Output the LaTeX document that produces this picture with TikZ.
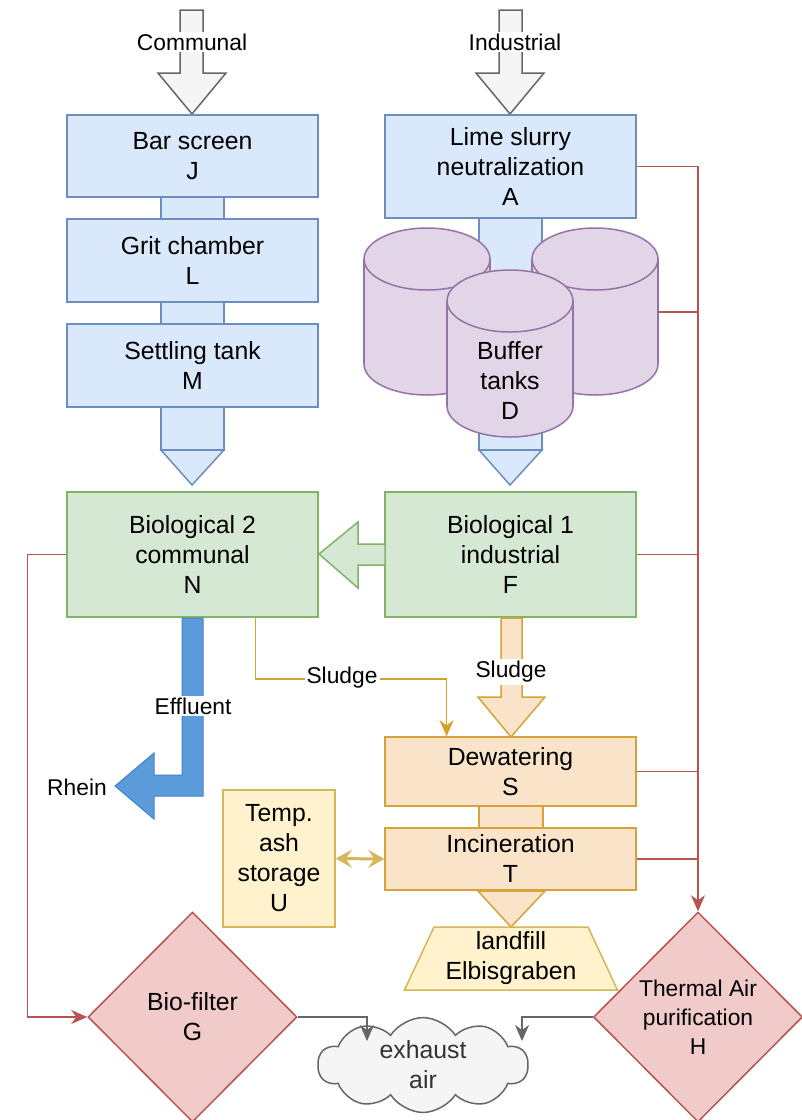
\documentclass[tikz,border=0pt]{standalone}
\usepackage{fontspec}
\setmainfont{Liberation Sans}
\usepackage{xcolor}
\usepackage{tikz}
\usetikzlibrary{positioning,calc,arrows.meta,shapes.geometric,shapes.symbols}

\definecolor{bluefill}{HTML}{DAE8FC}
\definecolor{bluedraw}{HTML}{6C8EBF}
\definecolor{greenfill}{HTML}{D5E8D4}
\definecolor{greendraw}{HTML}{82B366}
\definecolor{purplefill}{HTML}{E1D5E7}
\definecolor{purpledraw}{HTML}{9673A6}
\definecolor{orangefill}{HTML}{FAE4C9}
\definecolor{orangedraw}{HTML}{D6A33A}
\definecolor{yellowfill}{HTML}{FFF2CC}
\definecolor{yellowdraw}{HTML}{D6B656}
\definecolor{redfill}{HTML}{F0CBCA}
\definecolor{reddraw}{HTML}{B85450}
\definecolor{grayfill}{HTML}{F5F5F5}
\definecolor{graydraw}{HTML}{666666}
\definecolor{effluentfill}{HTML}{5B9BD9}
\definecolor{effluentdraw}{HTML}{4582C8}
\definecolor{sludgeline}{HTML}{D4A22E}

\tikzset{
	boxtext/.style={font=\fontsize{12.4}{15}\selectfont, align=center},
	labeltext/.style={font=\fontsize{11.4}{13}\selectfont, fill=white, inner sep=1pt},
	stage/.style={boxtext, draw, rectangle, line width=0.75pt, minimum width=125.5pt},
	bluestage/.style={stage, fill=bluefill, draw=bluedraw},
	greenstage/.style={stage, fill=greenfill, draw=greendraw, minimum height=62.5pt},
	orangestage/.style={stage, fill=orangefill, draw=orangedraw},
	bluepipe/.style={fill=bluefill, draw=bluedraw, line width=0.75pt},
	orangepipe/.style={fill=orangefill, draw=orangedraw, line width=0.75pt},
	inflow/.style={fill=grayfill, draw=graydraw, line width=0.75pt},
	tank/.style={fill=purplefill, draw=purpledraw, line width=0.75pt},
	airline/.style={draw=reddraw, line width=0.75pt},
	airtip/.style={-{Stealth[length=8pt, width=7pt, inset=2.5pt]}},
	treatment/.style={boxtext, diamond, draw=reddraw, fill=redfill, line width=0.75pt, inner sep=0pt, minimum width=104.5pt, minimum height=105pt},
}

\begin{document}
\begin{tikzpicture}[x=0.5pt, y=-0.5pt]
	\useasboundingbox (0,0) rectangle (802,1120);

	% inflows
	\draw[inflow] (180,10) -- (203,10) -- (203,73) -- (226,73) -- (192,114) -- (158,73) -- (180,73) -- cycle;
	\draw[inflow] (499,10) -- (522,10) -- (522,73) -- (544,73) -- (510,114) -- (476,73) -- (499,73) -- cycle;
	\node[labeltext] (communal) at (192,42) {Communal};
	\node[labeltext] (industrial) at (515,42) {Industrial};

	% communal line pipes
	\draw[bluepipe] (161,197) rectangle (224,219);
	\draw[bluepipe] (161,302) rectangle (224,324);
	\draw[bluepipe] (161,407) rectangle (224,450);
	\draw[bluepipe] (161,450) -- (224,450) -- (192,485) -- cycle;

	% industrial line pipe
	\draw[bluepipe] (479,218) rectangle (542,450);
	\draw[bluepipe] (479,450) -- (542,450) -- (510,485) -- cycle;

	% buffer tanks
	\foreach \l/\t/\b in {364/228/395, 532/228/395, 447/270/437} {
		\pgfmathsetmacro{\r}{\l+126}
		\pgfmathsetmacro{\cx}{\l+63}
		\draw[tank] (\cx,\b-31) ellipse [x radius=63, y radius=31];
		\fill[purplefill] (\l,\t+31) rectangle (\r,\b-31);
		\draw[tank] (\l,\t+31) -- (\l,\b-31) (\r,\t+31) -- (\r,\b-31);
		\draw[tank] (\cx,\t+31) ellipse [x radius=63, y radius=31];
	}
	\node[boxtext] (D) at (510,381) {Buffer\\tanks\\D};

	% stages
	\node[bluestage, minimum height=41pt] (J) at (192.5,156) {Bar screen\\J};
	\node[bluestage, minimum height=41.5pt] (L) at (192.5,260.5) {Grit chamber\\L};
	\node[bluestage, minimum height=41.5pt] (M) at (192.5,365.5) {Settling tank\\M};
	\node[bluestage, minimum height=51.5pt] (A) at (510.5,166.5) {Lime slurry\\neutralization\\A};
	\node[greenstage] (N) at (192.5,554.5) {Biological 2\\communal\\N};
	\node[greenstage] (F) at (510.5,554.5) {Biological 1\\industrial\\F};

	% F to N
	\draw[fill=greenfill, draw=greendraw, line width=0.75pt] (385,544) -- (358,544) -- (358,522) -- (319,554) -- (358,588) -- (358,565) -- (385,565) -- cycle;

	% effluent
	\draw[fill=effluentfill, draw=effluentdraw, line width=0.5pt] (182,618) -- (203,618) -- (203,796) -- (154,796) -- (154,819) -- (115,786) -- (154,753) -- (154,775) -- (182,775) -- cycle;
	\node[labeltext] (effluent) at (193,706) {Effluent};
	\node[font=\fontsize{11.4}{13}\selectfont] (rhein) at (77,787) {Rhein};

	% sludge
	\draw[orangepipe] (501,618) -- (522,618) -- (522,697) -- (545,697) -- (511,737) -- (478,697) -- (501,697) -- cycle;
	\node[labeltext] (sludgeF) at (511,672) {Sludge};
	\draw[orangepipe] (479,806) rectangle (543,828);
	\draw[orangepipe] (478,891) -- (545,891) -- (511,927) -- cycle;

	\node[orangestage, minimum height=34.5pt] (S) at (510.5,771.5) {Dewatering\\S};
	\node[orangestage, minimum height=31pt] (T) at (510.5,859) {Incineration\\T};
	\node[boxtext, draw=yellowdraw, fill=yellowfill, line width=0.75pt, minimum width=56pt, minimum height=68.5pt, inner sep=0pt] (U) at (279,858.5) {Temp.\\ash\\storage\\U};
	\node[boxtext, trapezium, trapezium stretches body, trapezium left angle=61, trapezium right angle=61, draw=yellowdraw, fill=yellowfill, line width=0.75pt, minimum width=106.5pt, minimum height=31.5pt, inner sep=0pt] (LF) at (511,958.5) {landfill\\Elbisgraben};

	\coordinate (NS) at ($(N.south west)!0.75!(N.south east)$);
	\coordinate (SN) at ($(S.north west)!0.247!(S.north east)$);
	\draw[sludgeline, line width=0.75pt, -{Stealth[length=8pt, width=7pt, inset=2.5pt]}] (NS) -- ++(0,61) -| (SN);
	\node[labeltext] (sludgeN) at (342,678) {Sludge};
	\draw[yellowdraw, line width=1.5pt, {Stealth[length=8pt, width=9pt, inset=3pt]}-{Stealth[length=8pt, width=9pt, inset=3pt]}] (U.east) -- (T.west);

	% exhaust air treatment
	\node[treatment] (G) at (192.5,1017) {Bio-filter\\G};
	\node[treatment, font=\fontsize{11.4}{14.5}\selectfont] (H) at (698,1017) {Thermal Air\\purification\\H};
	\node[boxtext, cloud, cloud puffs=10, cloud puff arc=115, aspect=2.6, draw=graydraw, fill=grayfill, text=black!80, line width=0.75pt, minimum width=105pt, minimum height=40pt, inner sep=0pt] (air) at (423,1065) {exhaust\\air};

	\coordinate (DR) at (658,312);
	\draw[airline, airtip] (A.east) -| (H.north);
	\draw[airline] (DR) -- (DR -| H.north);
	\draw[airline] (F.east) -- (F.east -| H.north);
	\draw[airline] (S.east) -- (S.east -| H.north);
	\draw[airline] (T.east) -- (T.east -| H.north);
	\draw[airline, airtip] (N.west) -- ++(-39,0) |- (G.west);

	\coordinate (airG) at (367,1041);
	\coordinate (airH) at (522,1041);
	\draw[graydraw, line width=0.75pt, airtip] (G.east) -| (airG);
	\draw[graydraw, line width=0.75pt, airtip] (H.west) -| (airH);
\end{tikzpicture}
\end{document}
